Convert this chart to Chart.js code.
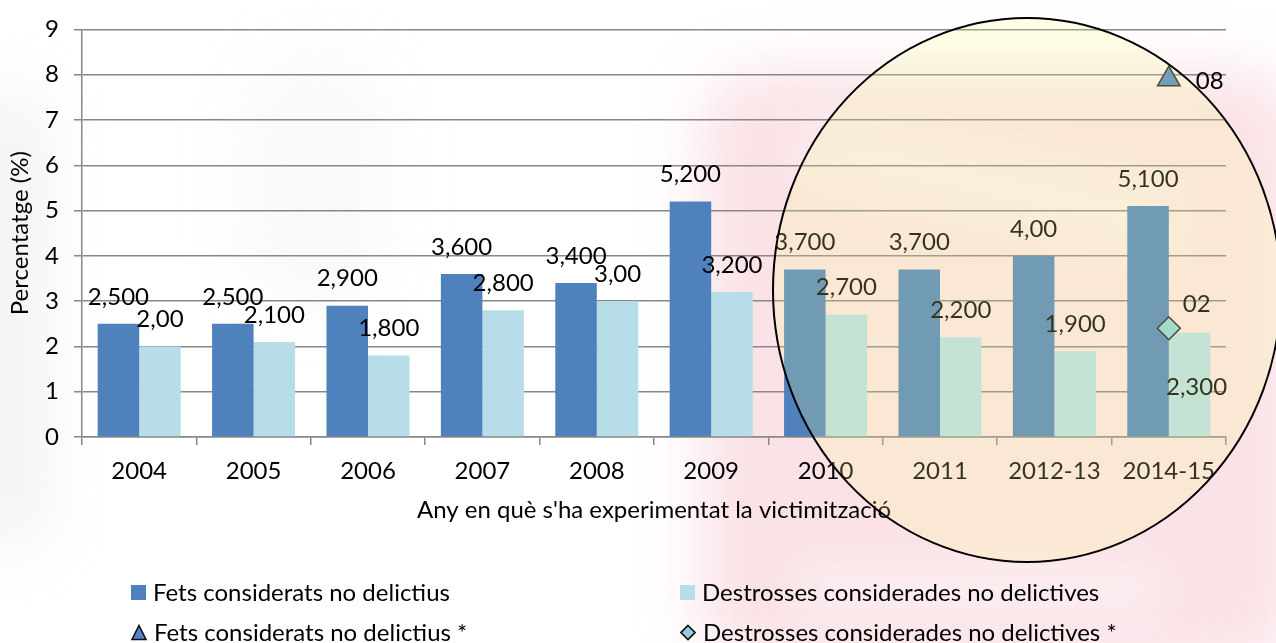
<!DOCTYPE html>
<html>
<head>
<meta charset="utf-8">
<script src="https://cdn.jsdelivr.net/npm/chart.js@4.4.1/dist/chart.umd.min.js"></script>
<style>
  html, body { margin: 0; padding: 0; width: 1276px; height: 643px; overflow: hidden; background: #fff; font-family: Lato, sans-serif; }
  #wrap { position: relative; width: 1276px; height: 643px; overflow: hidden; }
  .blob { position: absolute; }
  #chart { position: absolute; left: 0; top: 0; }
  #legend { position: absolute; left: 0; top: 0; width: 100%; height: 100%; pointer-events: none; }
  .item { position: absolute; height: 28px; line-height: 28px; display: flex; align-items: center; font-size: 24px; color: #000; white-space: nowrap; }
  .item svg { margin-right: 7px; flex: none; }
</style>
</head>
<body>
<div id="wrap">
  <!-- faded background picture behind the chart -->
  <div class="blob" style="left:-40px;top:90px;width:90px;height:460px;border-radius:45px;background:rgba(200,200,200,0.22);filter:blur(30px);"></div>
  <div class="blob" style="left:240px;top:50px;width:150px;height:260px;border-radius:75px;background:rgba(210,210,210,0.14);filter:blur(30px);"></div>
  <div class="blob" style="left:700px;top:70px;width:600px;height:600px;border-radius:60px;background:rgba(238,160,172,0.30);filter:blur(30px);"></div>
  <div class="blob" style="left:790px;top:150px;width:400px;height:70px;border-radius:35px;background:rgba(255,255,255,0.35);filter:blur(25px);transform:rotate(12deg);"></div>
  <div class="blob" style="left:790px;top:560px;width:380px;height:60px;border-radius:30px;background:rgba(255,255,255,0.40);filter:blur(22px);"></div>
  <canvas id="chart" width="1276" height="643"></canvas>
  <div id="legend"></div>
</div>
<script>
  // -- data ----------------------------------------------------------------
  const categories = ["2004", "2005", "2006", "2007", "2008", "2009", "2010", "2011", "2012-13", "2014-15"];
  const fetsValues = [2.5, 2.5, 2.9, 3.6, 3.4, 5.2, 3.7, 3.7, 4.0, 5.1];
  const destrossesValues = [2.0, 2.1, 1.8, 2.8, 3.0, 3.2, 2.7, 2.2, 1.9, 2.3];
  const fetsLabels = ["2,500", "2,500", "2,900", "3,600", "3,400", "5,200", "3,700", "3,700", "4,00", "5,100"];
  const destrossesLabels = ["2,00", "2,100", "1,800", "2,800", "3,00", "3,200", "2,700", "2,200", "1,900", "2,300"];
  const fetsStar = [null, null, null, null, null, null, null, null, null, 7.9];
  const destrossesStar = [null, null, null, null, null, null, null, null, null, 2.4];
  const fetsStarLabels = ["", "", "", "", "", "", "", "", "", "08"];
  const destrossesStarLabels = ["", "", "", "", "", "", "", "", "", "02"];
  const yTicks = [0, 1, 2, 3, 4, 5, 6, 7, 8, 9];

  const FONT = { family: "Lato, sans-serif", size: 24 };
  const GRID = "#888888";

  // -- value labels ----------------------------------------------------------
  const valueLabels = {
    id: "valueLabels",
    afterDatasetsDraw(chart) {
      const ctx = chart.ctx;
      ctx.save();
      ctx.font = `${FONT.size}px ${FONT.family}`;
      ctx.fillStyle = "#000";
      ctx.textBaseline = "middle";
      chart.data.datasets.forEach((ds, di) => {
        const meta = chart.getDatasetMeta(di);
        const off = ds.labelOffset || { dx: 0, dy: -27, align: "center" };
        meta.data.forEach((el, i) => {
          const txt = ds.valueText[i];
          if (!txt) return;
          let dx = off.dx, dy = off.dy;
          const special = (ds.labelOverride || {})[i];
          if (special) { dx = special.dx; dy = special.dy; }
          ctx.textAlign = off.align;
          ctx.fillText(txt, el.x + dx, el.y + dy);
        });
      });
      ctx.restore();
    },
  };

  // -- lens circle over the last years ----------------------------------------
  const lens = {
    id: "lens",
    afterDraw(chart, _args, opts) {
      const ctx = chart.ctx;
      ctx.save();
      ctx.beginPath();
      ctx.ellipse(opts.cx, opts.cy, opts.rx, opts.ry, 0, 0, Math.PI * 2);
      ctx.fillStyle = "rgba(250,255,140,0.2)";
      ctx.fill();
      ctx.lineWidth = 2;
      ctx.strokeStyle = "#000";
      ctx.stroke();
      ctx.restore();
    },
  };

  const chart = new Chart(document.getElementById("chart"), {
    type: "bar",
    data: {
      labels: categories,
      datasets: [
        {
          label: "Fets considerats no delictius",
          data: fetsValues,
          valueText: fetsLabels,
          backgroundColor: "#4F81BD",
          categoryPercentage: 0.726,
          barPercentage: 1.0,
          order: 2,
        },
        {
          label: "Destrosses considerades no delictives",
          data: destrossesValues,
          valueText: destrossesLabels,
          labelOverride: { 9: { dx: 7, dy: 54 } },
          backgroundColor: "#B7DDE8",
          categoryPercentage: 0.726,
          barPercentage: 1.0,
          order: 2,
        },
        {
          type: "line",
          label: "Fets considerats no delictius *",
          data: fetsStar,
          valueText: fetsStarLabels,
          labelOffset: { dx: 27, dy: 2, align: "left" },
          showLine: false,
          pointStyle: "triangle",
          pointRadius: 13,
          pointBackgroundColor: "#5585C8",
          pointBorderColor: "#1e1e1e",
          pointBorderWidth: 1.5,
          backgroundColor: "#5585C8",
          borderColor: "#1e1e1e",
          order: 1,
        },
        {
          type: "line",
          label: "Destrosses considerades no delictives *",
          data: destrossesStar,
          valueText: destrossesStarLabels,
          labelOffset: { dx: 14, dy: -24, align: "left" },
          showLine: false,
          pointStyle: "rectRot",
          pointRadius: 11.5,
          pointBackgroundColor: "#92CDDC",
          pointBorderColor: "#1e1e1e",
          pointBorderWidth: 1.5,
          backgroundColor: "#92CDDC",
          borderColor: "#1e1e1e",
          order: 1,
        },
      ],
    },
    options: {
      responsive: false,
      animation: false,
      layout: { padding: { top: 19, right: 50, bottom: 113, left: 0 } },
      plugins: {
        legend: { display: false },
        tooltip: { enabled: false },
        lens: { cx: 1027, cy: 290, rx: 254, ry: 272 },
      },
      scales: {
        x: {
          grid: { drawOnChartArea: false, drawTicks: true, tickLength: 8, color: GRID, lineWidth: 1.5, offset: true },
          border: { color: GRID, width: 1.5 },
          ticks: { font: FONT, color: "#000", padding: 12, maxRotation: 0, autoSkip: false },
          title: {
            display: true,
            text: "Any en què s'ha experimentat la victimització",
            font: FONT,
            color: "#000",
            padding: { top: 0, bottom: 5 },
          },
          afterFit(scale) { scale.height = 93; },
        },
        y: {
          min: 0,
          max: 9,
          afterBuildTicks(scale) { scale.ticks = yTicks.map((v) => ({ value: v })); },
          ticks: { font: FONT, color: "#000", padding: 15 },
          grid: { color: GRID, lineWidth: 1.5, tickLength: 8 },
          border: { color: GRID, width: 1.5 },
          title: {
            display: true,
            text: "Percentatge (%)",
            font: FONT,
            color: "#000",
            padding: { top: 6, bottom: 0 },
          },
          afterFit(scale) { scale.width = 82; },
        },
      },
    },
    plugins: [valueLabels, lens],
  });

  // -- legend (two columns, two rows) ---------------------------------------
  function markerSvg(ds) {
    if (ds.pointStyle === "triangle") {
      return `<svg width="16" height="17" viewBox="0 0 16 17"><polygon points="8,1.5 15,15.5 1,15.5" fill="${ds.pointBackgroundColor}" stroke="#111" stroke-width="1.6"/></svg>`;
    }
    if (ds.pointStyle === "rectRot") {
      return `<svg width="16" height="17" viewBox="0 0 16 17"><polygon points="8,1.5 15,8.5 8,15.5 1,8.5" fill="${ds.pointBackgroundColor}" stroke="#111" stroke-width="1.6"/></svg>`;
    }
    return `<svg width="15" height="15" viewBox="0 0 15 15"><rect x="0" y="0" width="15" height="15" fill="${ds.backgroundColor}"/></svg>`;
  }

  const legendSlots = [
    { left: 131, top: 578 },
    { left: 680, top: 578 },
    { left: 131, top: 618 },
    { left: 680, top: 618 },
  ];
  const legendEl = document.getElementById("legend");
  chart.data.datasets.forEach((ds, i) => {
    const div = document.createElement("div");
    div.className = "item";
    div.style.left = legendSlots[i].left + "px";
    div.style.top = legendSlots[i].top + "px";
    div.innerHTML = markerSvg(ds) + `<span>${ds.label}</span>`;
    legendEl.appendChild(div);
  });
</script>
</body>
</html>
